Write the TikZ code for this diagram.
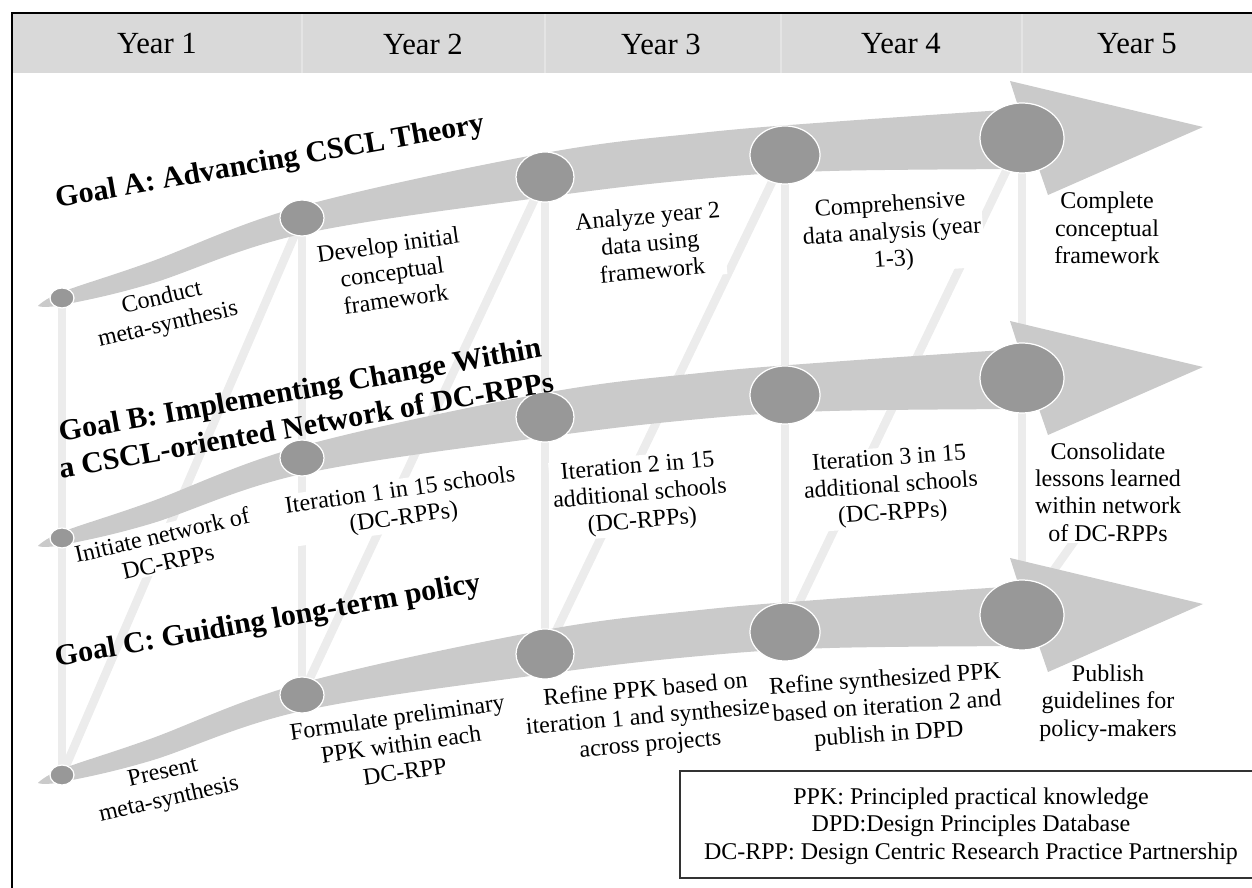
\documentclass[tikz,border=0pt]{standalone}
\usepackage{fontspec}
\setmainfont{Liberation Serif}
\usetikzlibrary{shapes.geometric,arrows.meta}
\definecolor{hdrgray}{RGB}{217,217,217}
\definecolor{hdrline}{RGB}{228,228,228}
\definecolor{bandgray}{RGB}{202,202,202}
\definecolor{dotgray}{RGB}{152,152,152}
\definecolor{faintgray}{RGB}{236,236,236}
\pgfdeclarelayer{lines}
\pgfdeclarelayer{texts}
\pgfsetlayers{lines,texts,main}
\tikzset{
  lbl/.style={font=\fontsize{13.66}{15.6}\selectfont, align=center, fill=white, inner sep=1pt},
  ttl/.style={font=\fontsize{17.07}{20.5}\selectfont\bfseries, align=center, inner sep=0pt},
  hdr/.style={font=\fontsize{17.5}{20}\selectfont, inner sep=0pt},
  legtext/.style={font=\fontsize{13.66}{15.6}\selectfont, align=center, inner sep=0pt},
  dot/.style={ellipse, fill=dotgray, draw=white, line width=0.7pt, inner sep=0pt},
  faint/.style={draw=faintgray, line width=0.17cm},
  band/.style={fill=bandgray},
}
\newcommand\goalbandpath{%
  \fill[band] plot[smooth, tension=0.6] coordinates {(38,306) (62,292) (150,262) (302,206) (545,153) (700,133) (830,122) (1019,109)}
    -- (1010,81) -- (1203,127) -- (1048,195) -- (1039,169)
    -- plot[smooth, tension=0.6] coordinates {(1039,169) (830,171) (700,179) (545,197) (302,234) (150,284) (62,305) (38,306)} -- cycle;}
\begin{document}
\begin{tikzpicture}[x=0.02cm, y=-0.02cm]
\useasboundingbox (0,0) rectangle (1252,888);
% header
\fill[hdrgray] (13,14) rectangle (1252,73);
\foreach \xx in {302,545,781,1022} \draw[hdrline, line width=0.7pt] (\xx,14) -- (\xx,73);
\node[hdr] (y1) at (157,44) {Year 1};
\node[hdr] (y2) at (423,44) {Year 2};
\node[hdr] (y3) at (661,44) {Year 3};
\node[hdr] (y4) at (901,44) {Year 4};
\node[hdr] (y5) at (1137,44) {Year 5};
% bands
\goalbandpath
\begin{scope}[shift={(0,240)}]\goalbandpath\end{scope}
\begin{scope}[shift={(0,477)}]\goalbandpath\end{scope}
% circles
\node[dot, minimum width=24*0.02cm, minimum height=20*0.02cm] (A1) at (62,298) {};
\node[dot, minimum width=44*0.02cm, minimum height=36*0.02cm] (A2) at (302,218) {};
\node[dot, minimum width=58*0.02cm, minimum height=50*0.02cm] (A3) at (545,177) {};
\node[dot, minimum width=70*0.02cm, minimum height=58*0.02cm] (A4) at (785,155) {};
\node[dot, minimum width=84*0.02cm, minimum height=70*0.02cm] (A5) at (1022,138) {};
\node[dot, minimum width=24*0.02cm, minimum height=20*0.02cm] (B1) at (62,538) {};
\node[dot, minimum width=44*0.02cm, minimum height=36*0.02cm] (B2) at (302,458) {};
\node[dot, minimum width=58*0.02cm, minimum height=50*0.02cm] (B3) at (545,417) {};
\node[dot, minimum width=70*0.02cm, minimum height=58*0.02cm] (B4) at (785,395) {};
\node[dot, minimum width=84*0.02cm, minimum height=70*0.02cm] (B5) at (1022,378) {};
\node[dot, minimum width=24*0.02cm, minimum height=20*0.02cm] (C1) at (62,775) {};
\node[dot, minimum width=44*0.02cm, minimum height=36*0.02cm] (C2) at (302,695) {};
\node[dot, minimum width=58*0.02cm, minimum height=50*0.02cm] (C3) at (545,654) {};
\node[dot, minimum width=70*0.02cm, minimum height=58*0.02cm] (C4) at (785,632) {};
\node[dot, minimum width=84*0.02cm, minimum height=70*0.02cm] (C5) at (1022,615) {};
\coordinate (arrtip) at (1102,502);
% faint connectors
\begin{pgfonlayer}{lines}
\foreach \k in {1,...,5} \draw[faint] (A\k.center) -- (C\k.center);
\draw[faint] (C1.center) -- (A2.center);
\draw[faint] (C2.center) -- (A3.center);
\draw[faint] (C3.center) -- (A4.center);
\draw[faint] (C4.center) -- (A5.center);
\draw[faint, -{Triangle[length=0.45cm, width=0.42cm]}] (C5.center) -- (arrtip);
\end{pgfonlayer}
% labels
\begin{pgfonlayer}{texts}
\node[lbl, rotate=13] (tA1) at (165,312) {Conduct\\meta-synthesis};
\node[lbl, rotate=8] (tA2) at (392,272) {Develop initial\\conceptual\\framework};
\node[lbl, rotate=5] (tA3) at (650,243) {Analyze year 2\\data using\\framework};
\node[lbl, rotate=4] (tA4) at (892,233) {Comprehensive\\data analysis (year\\1-3)};
\node[lbl] (tA5) at (1107,228) {Complete\\conceptual\\framework};
\node[lbl, rotate=13] (tB1) at (165,548) {Initiate network of\\DC-RPPs};
\node[lbl, rotate=8] (tB2) at (402,505) {Iteration 1 in 15 schools\\(DC-RPPs)};
\node[lbl, rotate=5] (tB3) at (640,495) {Iteration 2 in 15\\additional schools\\(DC-RPPs)};
\node[lbl, rotate=4] (tB4) at (891,487) {Iteration 3 in 15\\additional schools\\(DC-RPPs)};
\node[lbl] (tB5) at (1108,492) {Consolidate\\lessons learned\\within network\\of DC-RPPs};
\node[lbl, rotate=13] (tC1) at (166,787) {Present\\meta-synthesis};
\node[lbl, rotate=8] (tC2) at (401,744) {Formulate preliminary\\PPK within each\\DC-RPP};
\node[lbl, rotate=5] (tC3) at (648,718) {Refine PPK based on\\iteration 1 and synthesize\\across projects};
\node[lbl, rotate=4] (tC4) at (887,708) {Refine synthesized PPK\\based on iteration 2 and\\publish in DPD};
\node[lbl] (tC5) at (1108,703) {Publish\\guidelines for\\policy-makers};
\end{pgfonlayer}
% goal titles
\node[ttl, rotate=10] (gA) at (270,163) {Goal A: Advancing CSCL Theory};
\node[ttl, rotate=10] (gB) at (303,407) {Goal B: Implementing Change Within\\a CSCL-oriented Network of DC-RPPs};
\node[ttl, rotate=10] (gC) at (268,622) {Goal C: Guiding long-term policy};
% legend
\draw[draw=black!80, line width=0.85pt] (680,771) rectangle (1275,878);
\node[legtext] (leg) at (971,826) {PPK: Principled practical knowledge\\DPD:Design Principles Database\\DC-RPP: Design Centric Research Practice Partnership};
% outer frame
\draw[line width=1.7pt] (12,13) rectangle (1300,930);
\end{tikzpicture}
\end{document}
